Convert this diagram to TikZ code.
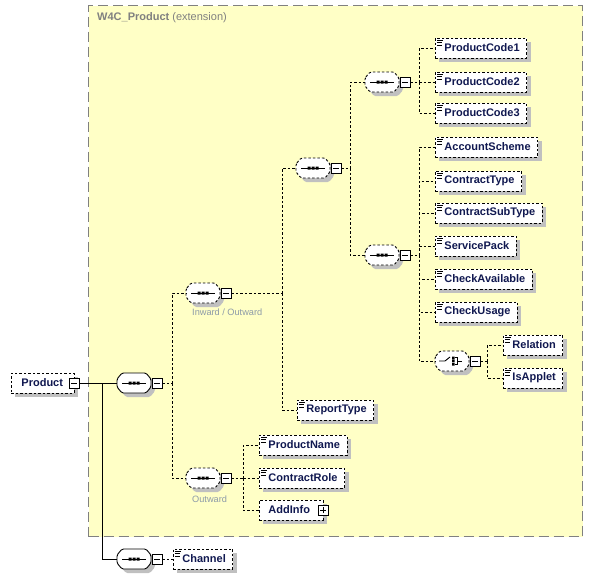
\documentclass[tikz,border=0pt]{standalone}
\usepackage{fontspec}
\setmainfont{Liberation Sans}
\usetikzlibrary{shadows,calc}
\definecolor{extfill}{HTML}{FFFFC6}
\definecolor{extline}{HTML}{808080}
\definecolor{elemtext}{HTML}{101850}
\definecolor{labtext}{HTML}{8C9AA8}
\definecolor{shd}{HTML}{C0C0C0}
\tikzset{
 dsh/.style={dash pattern=on 2.5pt off 2pt},
 opt/.style={line width=.9pt, dsh},
 req/.style={line width=.9pt},
 elem/.style={draw, fill=white, line width=.9pt, dsh, inner xsep=0pt, inner ysep=0pt,
   minimum height=20pt, font=\fontsize{11pt}{13pt}\selectfont\bfseries, text=elemtext,
   general shadow={fill=shd, shadow xshift=4pt, shadow yshift=-4pt}},
 icon/.style={path picture={\draw[solid,line width=.8pt,black]
   ([xshift=1.5pt,yshift=-2.5pt]path picture bounding box.north west) -- ++(6pt,0pt)
   ([xshift=1.5pt,yshift=-4.7pt]path picture bounding box.north west) -- ++(5pt,0pt)
   ([xshift=1.5pt,yshift=-6.9pt]path picture bounding box.north west) -- ++(5pt,0pt);}},
 mbox/.style={draw, solid, fill=white, line width=.8pt, minimum size=10pt, inner sep=0pt,
   general shadow={fill=black, shadow xshift=.9pt, shadow yshift=-.9pt},
   path picture={\draw[line width=.8pt] ([xshift=-3pt]path picture bounding box.center) -- ([xshift=3pt]path picture bounding box.center);}},
 pbox/.style={draw, solid, fill=white, line width=.8pt, minimum size=10pt, inner sep=0pt,
   general shadow={fill=black, shadow xshift=.9pt, shadow yshift=-.9pt},
   path picture={\draw[line width=.8pt] ([xshift=-3pt]path picture bounding box.center) -- ([xshift=3pt]path picture bounding box.center)
     ([yshift=-3pt]path picture bounding box.center) -- ([yshift=3pt]path picture bounding box.center);}},
 lab/.style={inner sep=0pt, text=labtext, font=\fontsize{9.2pt}{11pt}\selectfont},
}
\newcommand\et[1]{\hspace*{9pt}#1\hspace*{7pt}}
\newcommand\xocta[1]{\path[#1] (-17,-4) -- (-12,-10) -- (12,-10) -- (17,-4) -- (17,4) -- (12,10) -- (-12,10) -- (-17,4) -- cycle;}
\newcommand\xsymseq{\draw[line width=.9pt] (-12,0) -- (12,0);
  \fill (-5.5,-1.5) rectangle (-2.5,1.5) (-1.5,-1.5) rectangle (1.5,1.5) (2.5,-1.5) rectangle (5.5,1.5);}
\newcommand\xsymch{\draw[line width=.9pt] (-13,0) -- (-7,0) -- (-2,-4);
  \fill (0,-4.5) rectangle (2.6,-2) (0,-1.3) rectangle (2.6,1.3) (0,2) rectangle (2.6,4.5);
  \draw[line width=.8pt] (2.6,-3.25) -- (5,-3.25) -- (5,3.25) -- (2.6,3.25) (5,0) -- (10,0);}
\newcommand\xcomp[5]{\begin{scope}[shift={(#2,#3)}]
  \xocta{fill=shd,rounded corners=1.5pt,shift={(4,4)}}
  \xocta{draw,fill=white,rounded corners=1.5pt,line width=.9pt,#4}
  \node[inner sep=0pt,minimum width=34pt,minimum height=20pt] (#1) at (0,0) {};
  #5
  \node[mbox] (#1m) at (23,0) {};
\end{scope}}
\begin{document}
\begin{tikzpicture}[x=1pt,y=-1pt]
\useasboundingbox (0,0) rectangle (593,579);
\node[draw=extline, fill=extfill, line width=1.3pt, dash pattern=on 10pt off 5pt, inner sep=0pt,
  minimum width=494pt, minimum height=531pt, anchor=north west] (ext) at (88,5) {};
\node[anchor=west, text=extline, font=\fontsize{11pt}{13pt}\selectfont, inner sep=0pt] (title) at (97,18) {\textbf{W4C\_Product} (extension)};

% root
\node[elem, anchor=west] (prod) at (11,383) {\hspace*{10pt}Product\hspace*{11pt}};
\node[mbox] (prodm) at (prod.east) {};

% compositors
\xcomp{s0}{134}{383}{solid}{\xsymseq}
\xcomp{sch}{134}{559}{solid}{\xsymseq}
\xcomp{sio}{203}{293}{dsh}{\xsymseq}
\xcomp{sout}{203}{478}{dsh}{\xsymseq}
\xcomp{sa}{313}{168}{dsh}{\xsymseq}
\xcomp{spc}{382}{82}{dsh}{\xsymseq}
\xcomp{sg}{382}{255}{dsh}{\xsymseq}
\xcomp{cho}{452}{361}{dsh}{\xsymch}

\node[lab, anchor=west] (lio) at (192,312) {Inward / Outward};
\node[lab, anchor=west] (lout) at (192,499) {Outward};

% elements
\node[elem, icon, anchor=west] (pc1) at (435,48) {\et{ProductCode1}};
\node[elem, icon, anchor=west] (pc2) at (435,82) {\et{ProductCode2}};
\node[elem, icon, anchor=west] (pc3) at (435,113) {\et{ProductCode3}};
\node[elem, icon, anchor=west] (acc) at (435,147) {\et{AccountScheme}};
\node[elem, icon, anchor=west] (ct) at (435,181) {\et{ContractType}};
\node[elem, icon, anchor=west] (cst) at (435,213) {\et{ContractSubType}};
\node[elem, icon, anchor=west] (sp) at (435,246) {\et{ServicePack}};
\node[elem, icon, anchor=west] (ca) at (435,279) {\et{CheckAvailable}};
\node[elem, icon, anchor=west] (cu) at (435,312) {\et{CheckUsage}};
\node[elem, icon, anchor=west] (rel) at (503,345) {\et{Relation}};
\node[elem, icon, anchor=west] (isa) at (503,378) {\et{IsApplet}};
\node[elem, icon, anchor=west] (rt) at (297,410) {\et{ReportType}};
\node[elem, icon, anchor=west] (pn) at (259,445) {\et{ProductName}};
\node[elem, icon, anchor=west] (cr) at (259,478) {\et{ContractRole}};
\node[elem, anchor=west] (addi) at (259,510) {\hspace*{9pt}AddInfo\hspace*{13pt}};
\node[pbox] (addim) at (addi.east) {};
\node[elem, icon, anchor=west] (ch) at (173,559) {\et{Channel}};

% connectors
\coordinate (t0) at (102,383);
\draw[req] (prodm.east) -- (s0.west);
\draw[req] (t0) |- (sch.west);
\draw[opt] (schm.east) -- (ch.west);

\coordinate (b1) at (172,383);
\draw[opt] (s0m.east) -- (b1);
\draw[opt] (b1) |- (sio.west);
\draw[opt] (b1) |- (sout.west);

\coordinate (b2) at (282,293);
\draw[opt] (siom.east) -- (b2);
\draw[opt] (b2) |- (sa.west);
\draw[opt] (b2) |- (rt.west);

\coordinate (b3) at (350,168);
\draw[opt] (sam.east) -- (b3);
\draw[opt] (b3) |- (spc.west);
\draw[opt] (b3) |- (sg.west);

\coordinate (b4) at (419,82);
\draw[opt] (spcm.east) -- (b4);
\draw[opt] (b4) |- (pc1.west);
\draw[opt] (b4) |- (pc2.west);
\draw[opt] (b4) |- (pc3.west);

\coordinate (b5) at (419,255);
\draw[opt] (sgm.east) -- (b5);
\foreach \n in {acc,ct,cst,sp,ca,cu,cho} {\draw[opt] (b5) |- (\n.west);}

\coordinate (b6) at (487,361);
\draw[opt] (chom.east) -- (b6);
\draw[opt] (b6) |- (rel.west);
\draw[opt] (b6) |- (isa.west);

\coordinate (b7) at (243,478);
\draw[opt] (soutm.east) -- (b7);
\draw[opt] (b7) |- (pn.west);
\draw[opt] (b7) |- (cr.west);
\draw[opt] (b7) |- (addi.west);
\end{tikzpicture}
\end{document}
